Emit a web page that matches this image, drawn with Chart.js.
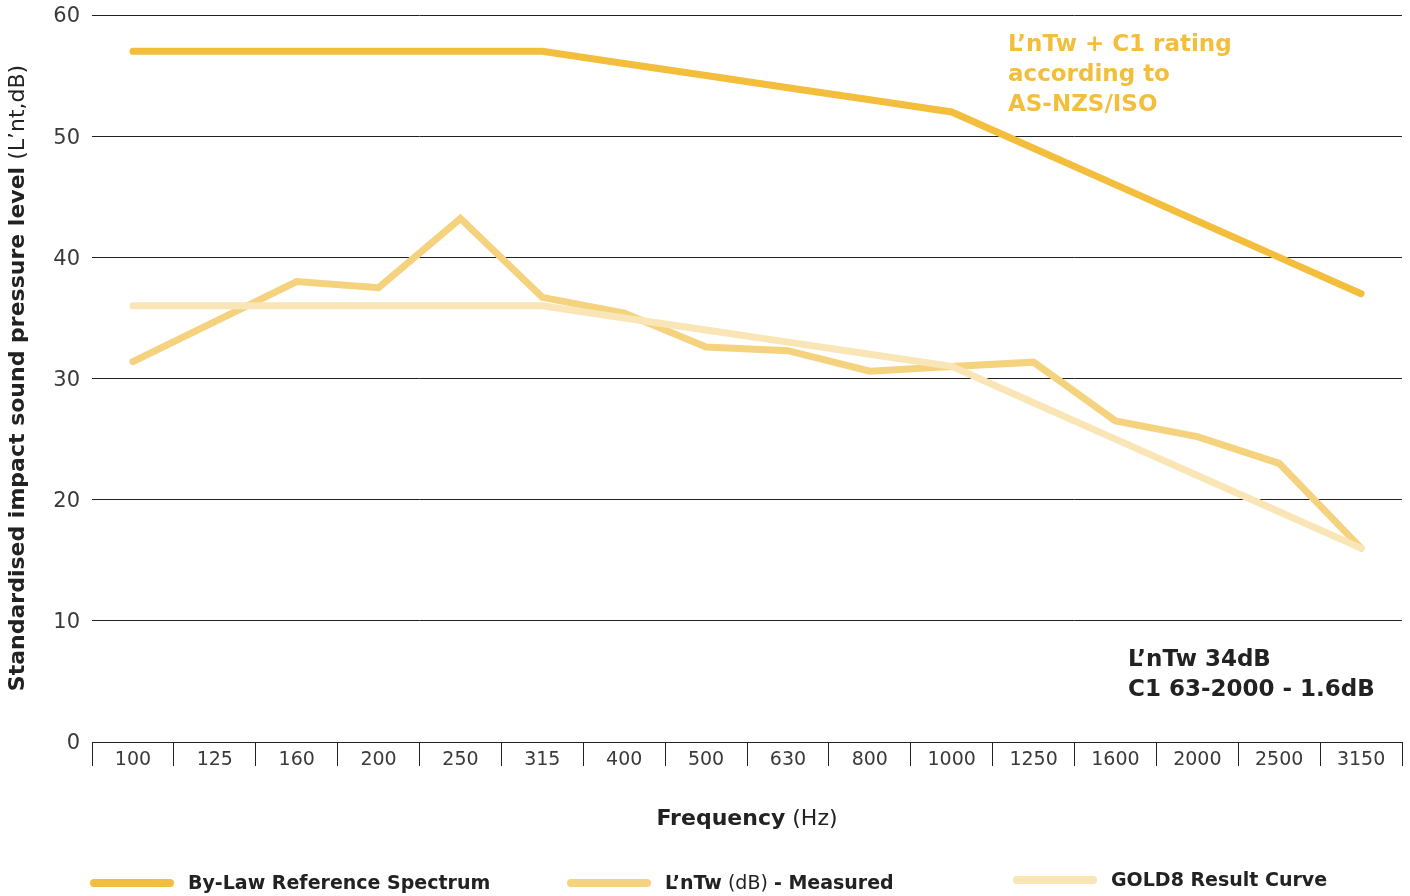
<!DOCTYPE html>
<html>
<head>
<meta charset="utf-8">
<script src="https://cdn.jsdelivr.net/npm/chart.js@4"></script>
<style>
  html, body { margin: 0; padding: 0; background: #fff; }
  #wrap { width: 1410px; height: 896px; }
</style>
</head>
<body>
<div id="wrap"><canvas id="chart" width="1410" height="896"></canvas></div>
<script>
const frequencies = ['100', '125', '160', '200', '250', '315', '400', '500', '630', '800', '1000', '1250', '1600', '2000', '2500', '3150'];
const byLawReference = [57, 57, 57, 57, 57, 57, 56, 55, 54, 53, 52, 49, 46, 43, 40, 37];
const measured = [31.4, 34.7, 38.0, 37.5, 43.2, 36.7, 35.4, 32.6, 32.3, 30.6, 31.0, 31.35, 26.5, 25.2, 23.0, 16.0];
const gold8Curve = [36, 36, 36, 36, 36, 36, 35, 34, 33, 32, 31, 28, 25, 22, 19, 16];
const yTicks = [0, 10, 20, 30, 40, 50, 60];

const FONT = '"DejaVu Sans", sans-serif';
const DARK = '#222222';
const GOLD = '#F2BE3C';
const MEASURED = '#F5D27E';
const RESULT = '#F9E5B6';

// draws a line of text made from [text, weight] parts
const drawParts = (ctx, parts, x, y, size, align) => {
  let total = 0;
  parts.forEach(p => {
    ctx.font = `${p[1]} ${size}px ${FONT}`;
    total += ctx.measureText(p[0]).width;
  });
  let cx = align === 'center' ? x - total / 2 : x;
  parts.forEach(p => {
    ctx.font = `${p[1]} ${size}px ${FONT}`;
    ctx.fillText(p[0], cx, y);
    cx += ctx.measureText(p[0]).width;
  });
};

const extras = {
  id: 'extras',
  afterDraw(chart) {
    const ctx = chart.ctx;
    ctx.save();
    ctx.textBaseline = 'middle';
    ctx.textAlign = 'left';
    ctx.fillStyle = DARK;

    // y axis title
    ctx.save();
    ctx.translate(18, 378);
    ctx.rotate(-Math.PI / 2);
    drawParts(ctx, [['Standardised impact sound pressure level', 700], [' (L\u2019nt,dB)', 400]], 0, 0, 22, 'center');
    ctx.restore();

    // x axis title
    drawParts(ctx, [['Frequency', 700], [' (Hz)', 400]], 747, 819, 22, 'center');

    // legend
    const legend = [
      { color: GOLD, x: 90, y: 884, parts: [['By-Law Reference Spectrum', 700]] },
      { color: MEASURED, x: 567, y: 884, parts: [['L\u2019nTw', 700], [' (dB) ', 400], ['- Measured', 700]] },
      { color: RESULT, x: 1013, y: 881, parts: [['GOLD8 Result Curve', 700]] }
    ];
    legend.forEach(item => {
      ctx.strokeStyle = item.color;
      ctx.lineWidth = 8;
      ctx.lineCap = 'round';
      ctx.beginPath();
      ctx.moveTo(item.x + 4, item.y - 1);
      ctx.lineTo(item.x + 80, item.y - 1);
      ctx.stroke();
      ctx.fillStyle = DARK;
      drawParts(ctx, item.parts, item.x + 98, item.y, 19, 'left');
    });

    // notes
    ctx.fillStyle = GOLD;
    ['L\u2019nTw + C1 rating', 'according to', 'AS-NZS/ISO'].forEach((t, i) => {
      drawParts(ctx, [[t, 700]], 1008, 45 + i * 30, 23, 'left');
    });
    ctx.fillStyle = DARK;
    ['L\u2019nTw 34dB', 'C1 63-2000 - 1.6dB'].forEach((t, i) => {
      drawParts(ctx, [[t, 700]], 1128, 660 + i * 30, 23, 'left');
    });
    ctx.restore();
  }
};

const lineSet = (label, data, color) => ({
  label: label,
  data: data,
  borderColor: color,
  backgroundColor: color,
  borderWidth: 7,
  borderCapStyle: 'round',
  borderJoinStyle: 'miter',
  pointRadius: 0,
  tension: 0,
});

new Chart(document.getElementById('chart').getContext('2d'), {
  type: 'line',
  data: {
    labels: frequencies,
    datasets: [
      lineSet('GOLD8 Result Curve', gold8Curve, RESULT),
      lineSet('L\u2019nTw (dB) - Measured', measured, MEASURED),
      lineSet('By-Law Reference Spectrum', byLawReference, GOLD),
    ],
  },
  options: {
    responsive: false,
    animation: false,
    layout: { padding: { top: 15, right: 8, left: 0, bottom: 0 } },
    plugins: { legend: { display: false }, tooltip: { enabled: false } },
    scales: {
      x: {
        offset: true,
        grid: { offset: true, drawOnChartArea: false, drawTicks: true, tickLength: 24, color: DARK, lineWidth: 1 },
        border: { display: true, color: DARK, width: 1 },
        ticks: { color: '#3a3a3a', font: { family: FONT, size: 19, weight: 400 }, padding: -17, maxRotation: 0 },
        afterFit: (scale) => { scale.height = 154; },
      },
      y: {
        min: 0,
        max: 60,
        afterBuildTicks: (scale) => { scale.ticks = yTicks.map(v => ({ value: v })); },
        grid: { drawTicks: false, color: DARK, lineWidth: 1 },
        border: { display: false },
        ticks: { color: '#3a3a3a', font: { family: FONT, size: 21, weight: 400 }, padding: 12, labelOffset: 2 },
        afterFit: (scale) => { scale.width = 92; scale.paddingTop = 0; scale.paddingBottom = 0; },
      },
    },
  },
  plugins: [extras],
});
</script>
</body>
</html>
